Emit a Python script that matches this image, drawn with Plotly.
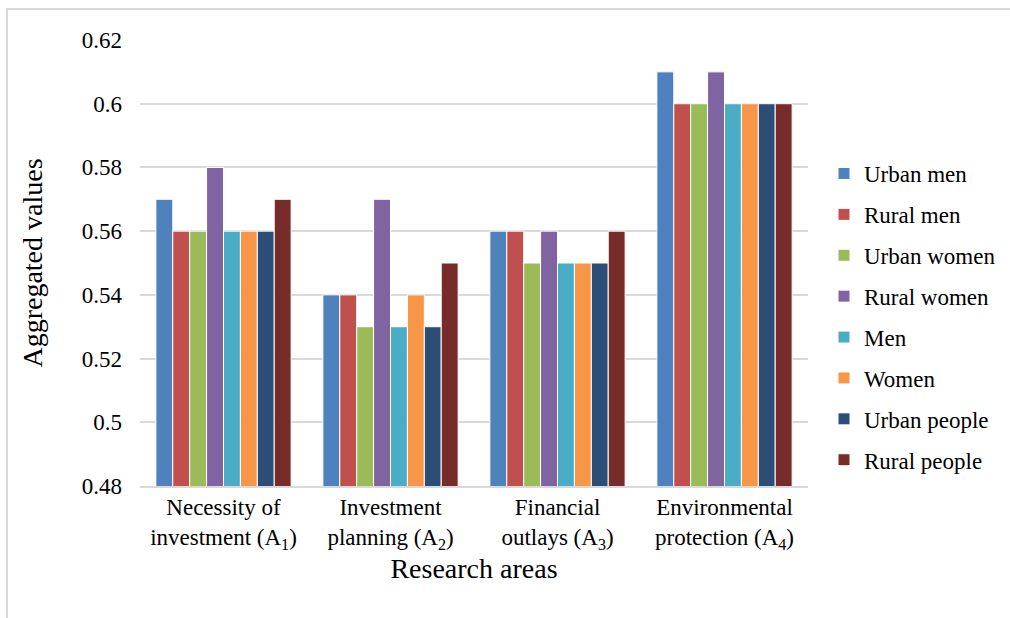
import plotly.graph_objects as go

categories = [
    "Necessity of<br>investment (A<sub>1</sub>)",
    "Investment<br>planning (A<sub>2</sub>)",
    "Financial<br>outlays (A<sub>3</sub>)",
    "Environmental<br>protection (A<sub>4</sub>)",
]

urban_men = [0.57, 0.54, 0.56, 0.61]
rural_men = [0.56, 0.54, 0.56, 0.60]
urban_women = [0.56, 0.53, 0.55, 0.60]
rural_women = [0.58, 0.57, 0.56, 0.61]
men = [0.56, 0.53, 0.55, 0.60]
women = [0.56, 0.54, 0.55, 0.60]
urban_people = [0.56, 0.53, 0.55, 0.60]
rural_people = [0.57, 0.55, 0.56, 0.60]

series = [
    ("Urban men", urban_men, "#4F81BD"),
    ("Rural men", rural_men, "#C0504D"),
    ("Urban women", urban_women, "#9BBB59"),
    ("Rural women", rural_women, "#8064A2"),
    ("Men", men, "#4BACC6"),
    ("Women", women, "#F79646"),
    ("Urban people", urban_people, "#2C4D75"),
    ("Rural people", rural_people, "#772C2A"),
]

fig = go.Figure()
for i, (name, vals, color) in enumerate(series):
    fig.add_trace(go.Bar(
        name=name, x=categories, y=vals,
        marker=dict(color=color, line=dict(color="white", width=1)),
        legendgroup=str(i),
    ))

W, H = 1010, 618
ml, mr, mt, mb = 140, 202, 40, 132
pw, ph = W - ml - mr, H - mt - mb

def px_x(x):
    return (x - ml) / pw

def px_y(y):
    return 1 - (y - mt) / ph

font_family = "Liberation Serif, Times New Roman, serif"

fig.update_layout(
    width=W, height=H,
    margin=dict(l=ml, r=mr, t=mt, b=mb, autoexpand=False),
    paper_bgcolor="white", plot_bgcolor="white",
    barmode="group", bargap=0.19, bargroupgap=0,
    font=dict(family=font_family, size=23, color="black"),
    showlegend=True,
    legend=dict(
        x=px_x(824), y=px_y(152), xanchor="left", yanchor="top",
        font=dict(family=font_family, size=23, color="black"),
        tracegroupgap=8, itemwidth=30,
    ),
    xaxis=dict(
        showgrid=False, showline=True, linecolor="#d9d9d9", linewidth=1.5,
        ticks="", tickfont=dict(size=23),
        title=dict(text="Research areas", font=dict(size=28), standoff=6),
    ),
    yaxis=dict(
        range=[0.48, 0.62], dtick=0.02, tick0=0.48,
        showgrid=True, gridcolor="#d9d9d9", gridwidth=1.5,
        zeroline=False, showline=False, ticks="",
        tickfont=dict(size=23), ticklabelstandoff=17,
        title=dict(text="Aggregated values", font=dict(size=28), standoff=30),
    ),
    shapes=[dict(
        type="rect", xref="paper", yref="paper",
        x0=px_x(7), x1=px_x(1014), y0=px_y(625), y1=px_y(9),
        line=dict(color="#d9d9d9", width=2), fillcolor="rgba(0,0,0,0)",
        layer="below",
    )],
)

fig.write_html("out.html")
